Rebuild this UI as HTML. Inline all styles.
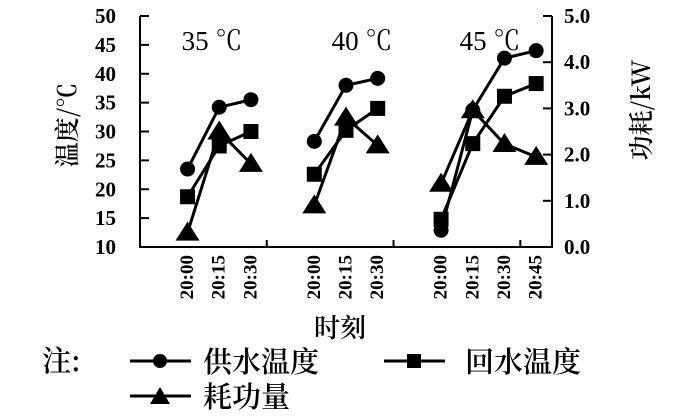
<!DOCTYPE html>
<html><head><meta charset="utf-8"><style>
html,body{margin:0;padding:0;background:#fff;}
svg{display:block;font-family:"Liberation Serif","Noto Serif CJK SC",serif;}
</style></head><body>
<svg id="chart" width="700" height="418" viewBox="0 0 700 418">
<g id="axes"></g>
<g id="marks"></g>
<text x="66" y="125" font-size="25" font-weight="600" text-anchor="middle" dominant-baseline="central" transform="rotate(-90 66 125)" font-family="'Noto Serif CJK SC',serif">温度/℃</text>
<text x="640" y="110" font-size="25" font-weight="600" text-anchor="middle" dominant-baseline="central" transform="rotate(-90 640 110)" font-family="'Noto Serif CJK SC',serif">功耗/kW</text>
<text x="212" y="50" font-size="27" text-anchor="middle">35 ℃</text>
<text x="362" y="50" font-size="27" text-anchor="middle">40 ℃</text>
<text x="490" y="50" font-size="27" text-anchor="middle">45 ℃</text>
<text x="340" y="337" font-size="26" font-weight="600" text-anchor="middle" font-family="'Noto Serif CJK SC',serif">时刻</text>
<g id="legend" font-family="'Noto Serif CJK SC',serif" font-size="29" font-weight="600">
<text x="42" y="371">注:</text>
<g>
<line x1="130" y1="361" x2="191" y2="361" stroke="#000" stroke-width="3"/><circle cx="160" cy="361" r="7"/>
<text x="203" y="372">供水温度</text></g>
<g>
<line x1="384" y1="361" x2="445" y2="361" stroke="#000" stroke-width="3"/><rect x="407" y="354" width="14" height="14"/>
<text x="465" y="372">回水温度</text></g>
<g>
<line x1="130" y1="396" x2="191" y2="396" stroke="#000" stroke-width="3"/><polygon points="160,387 170,404 150,404"/>
<text x="203" y="407">耗功量</text></g>
</g>
</svg>
<script>
const categories = ["", "20:00","20:15","20:30", "", "20:00","20:15","20:30", "", "20:00","20:15","20:30","20:45"];
const groups = [[1,2,3],[5,6,7],[9,10,11,12]];
const supplyTemp = [[23.5,34.2,35.5],[28.3,38.0,39.2],[12.9,33.7,42.7,44.0]];
const returnTemp = [[18.7,27.5,30.0],[22.6,30.2,34.0],[14.8,27.9,36.1,38.3]];
const powerKW = [[0.31,2.5,1.8],[0.9,2.8,2.2],[1.37,2.96,2.23,1.95]];
const leftTicks = [10,15,20,25,30,35,40,45,50];
const rightTicks = ["0.0","1.0","2.0","3.0","4.0","5.0"];

const NS = "http://www.w3.org/2000/svg";
const X0 = 140, X1 = 552, Y0 = 247, Y1 = 16;
const bw = (X1 - X0) / categories.length;
const xs = i => X0 + (i + 0.5) * bw;
const yL = v => Y0 - (v - 10) / 40 * (Y0 - Y1);
const yR = v => Y0 - v / 5 * (Y0 - Y1);
function mk(tag, attrs, parent, txt) {
  const e = document.createElementNS(NS, tag);
  for (const k in attrs) e.setAttribute(k, attrs[k]);
  if (txt !== undefined) e.textContent = txt;
  parent.appendChild(e); return e;
}
const axes = document.getElementById('axes');
const marks = document.getElementById('marks');
const st = {stroke:"#000","stroke-width":2,fill:"none"};
let e = mk('line', Object.assign({x1:X0,y1:Y1,x2:X0,y2:Y0}, st), axes);


e = mk('line', Object.assign({x1:X1,y1:Y1,x2:X1,y2:Y0}, st), axes);


e = mk('line', Object.assign({x1:X0-1,y1:Y0,x2:X1+1,y2:Y0}, st), axes);


leftTicks.forEach(v => {
  const y = yL(v);
  mk('line', Object.assign({x1:X0,y1:y,x2:X0+9,y2:y}, st), axes);
  const t = mk('text', {x:116, y:y, "font-size":21, "font-weight":"bold", "text-anchor":"end", "dominant-baseline":"central"}, axes, String(v));
  
  
});
rightTicks.forEach(s => {
  const y = yR(parseFloat(s));
  mk('line', Object.assign({x1:X1-9,y1:y,x2:X1,y2:y}, st), axes);
  const t = mk('text', {x:564, y:y, "font-size":21, "font-weight":"bold", "dominant-baseline":"central"}, axes, s);
  
  
});
[4,8,12].forEach(i => {
  const x = X0 + i * bw;
  mk('line', Object.assign({x1:x,y1:Y0,x2:x,y2:Y0-7}, st), axes);
});
categories.forEach((c, i) => {
  if (!c) return;
  const x = xs(i), y = 255;
  const t = mk('text', {x:x, y:y, "font-size":19, "font-weight":"bold", "text-anchor":"end", "dominant-baseline":"central", transform:`rotate(-90 ${x} ${y})`}, axes, c);
  
  
});
function drawSeries(vals, yf, shape, name) {
  groups.forEach((g, gi) => {
    const pts = g.map((ci, k) => [xs(ci), yf(vals[gi][k])]);
    const pl = mk('polyline', {points: pts.map(p => p.join(',')).join(' '), stroke:"#000","stroke-width":3, fill:"none"}, marks);
    
    
    pts.forEach(([x, y]) => {
      let m;
      if (shape === 'c') m = mk('circle', {cx:x, cy:y, r:7.5}, marks);
      else if (shape === 's') m = mk('rect', {x:x-7.5, y:y-7.5, width:15, height:15}, marks);
      else m = mk('polygon', {points:`${x},${y-11} ${x+12},${y+8} ${x-12},${y+8}`}, marks);
      
      
    });
  });
}
drawSeries(returnTemp, yL, 's', 'return-temp');
drawSeries(powerKW, yR, 't', 'power');
drawSeries(supplyTemp, yL, 'c', 'supply-temp');
</script>
</body></html>
